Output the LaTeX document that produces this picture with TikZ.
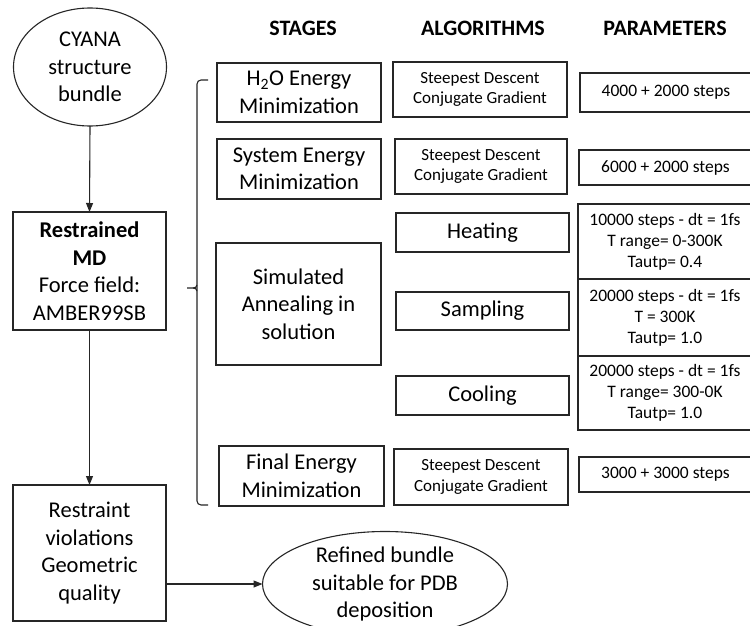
\documentclass[tikz,border=0pt]{standalone}
\usepackage{fontspec}
\setmainfont{Carlito}
\usetikzlibrary{shapes.geometric,arrows.meta}
\tikzset{
  every node/.style={inner sep=0pt, outer sep=0pt},
  box/.style={draw=black!85, line width=1.1pt, align=center, font=\fontsize{22.5}{27.5}\selectfont},
  algbox/.style={box, font=\fontsize{17}{20.7}\selectfont},
  parbox/.style={box, font=\fontsize{17.5}{21}\selectfont},
  oval/.style={draw=black!85, line width=1.1pt, ellipse, align=center, font=\fontsize{22.5}{27.5}\selectfont},
  head/.style={font=\fontsize{22}{26}\selectfont\bfseries},
  arr/.style={draw=black!85, line width=1.1pt, -{Triangle[length=9pt,width=7pt]}},
  brace/.style={draw=black!85, line width=1.1pt, rounded corners=4pt}
}
\begin{document}
\begin{tikzpicture}[x=1pt,y=-1pt]
\useasboundingbox (0,0) rectangle (750,626);
\clip (0,0) rectangle (750,626);
\fill[white] (0,0) rectangle (750,626);
% headers
\node[head] (hst) at (303,28) {STAGES};
\node[head] (hal) at (483,28) {ALGORITHMS};
\node[head] (hpa) at (665,28) {PARAMETERS};
% left column
\node[oval, minimum width=153, minimum height=118] (cyana) at (90,67) {CYANA\\structure\\bundle};
\node[box, minimum width=153, minimum height=118] (md) at (89.5,271) {\textbf{Restrained}\\\textbf{MD}\\Force field:\\AMBER99SB};
\node[box, minimum width=153, minimum height=136] (rv) at (89.5,553) {Restraint\\violations\\Geometric\\quality};
\node[oval, minimum width=245, minimum height=90] (ref) at (385,584) {Refined bundle\\suitable for PDB\\deposition};
\draw[arr] (cyana.south) -- (md.north);
\draw[arr] (md.south) -- (rv.north);
\draw[arr] (rv.east |- ref.west) -- (ref.west);
% stages
\node[box, minimum width=164, minimum height=59] (h2o) at (299,92.5) {H\textsubscript{2}O Energy\\Minimization};
\node[box, minimum width=164, minimum height=60] (sys) at (299,169) {System Energy\\Minimization};
\node[box, minimum width=165, minimum height=122] (sim) at (298.5,304) {Simulated\\Annealing in\\solution};
\node[box, minimum width=165, minimum height=60] (fin) at (301.5,476) {Final Energy\\Minimization};
% algorithms
\node[algbox, minimum width=174, minimum height=55] (a1) at (480,89.5) {Steepest Descent\\Conjugate Gradient};
\node[algbox, minimum width=172, minimum height=55] (a2) at (481,166.5) {Steepest Descent\\Conjugate Gradient};
\node[box, minimum width=173, minimum height=39] (heat) at (482.5,232.5) {Heating};
\node[box, minimum width=173, minimum height=38] (samp) at (482.5,311) {Sampling};
\node[box, minimum width=173, minimum height=39] (cool) at (482.5,395.5) {Cooling};
\node[algbox, minimum width=174, minimum height=56] (a3) at (481,477) {Steepest Descent\\Conjugate Gradient};
% parameters
\node[parbox, minimum width=172, minimum height=39] (p1) at (666,92.5) {4000 + 2000 steps};
\node[parbox, minimum width=173, minimum height=35] (p2) at (665.5,167.5) {6000 + 2000 steps};
\node[parbox, minimum width=174, minimum height=75] (p3) at (665,241.5) {10000 steps - dt = 1fs\\T range= 0-300K\\Tautp= 0.4};
\node[parbox, minimum width=174, minimum height=77] (p4) at (665,317.5) {20000 steps - dt = 1fs\\T = 300K\\Tautp= 1.0};
\node[parbox, minimum width=174, minimum height=74] (p5) at (665,393) {20000 steps - dt = 1fs\\T range= 300-0K\\Tautp= 1.0};
\node[parbox, minimum width=173, minimum height=35] (p6) at (665.5,474.5) {3000 + 3000 steps};
% brace
\coordinate (bt) at (208,80);
\coordinate (bb) at (208,505);
\coordinate (bm) at (187,288);
\draw[brace] (bt) -- (197,80) -- (197,505) -- (bb);
\draw[line width=1.1pt, draw=black!85] (bm) -- (193,288) to[out=0,in=90] (197,291);
\draw[line width=1.1pt, draw=black!85] (193,288) to[out=0,in=-90] (197,285);
\end{tikzpicture}
\end{document}
